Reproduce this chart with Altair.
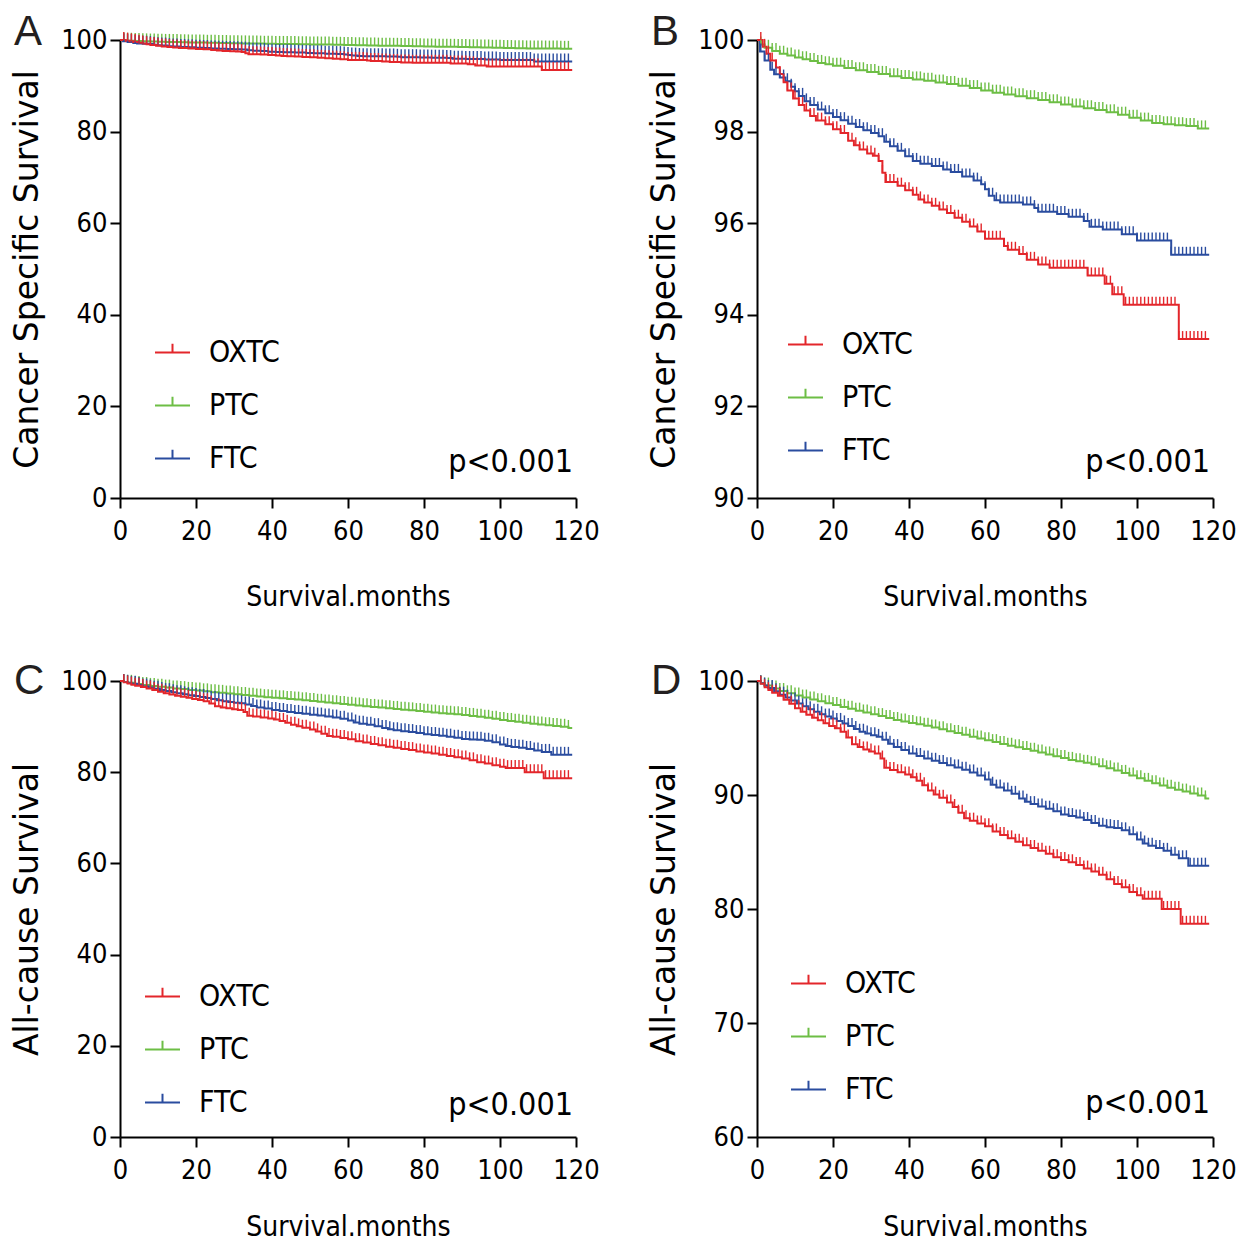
import altair as alt
import pandas as pd

NARROW = "Liberation Sans Narrow, DejaVu Sans Condensed, Liberation Sans"
WIDE = "DejaVu Sans"

groups = ["OXTC", "PTC", "FTC"]
colors = ["#E3262B", "#6DBE45", "#2A4C9F"]

# ---------------- Cancer specific survival (panels A and B) ----------------
css_ptc_t = [0, 1, 2, 4, 6, 8, 10, 12, 14, 16, 18, 20, 23, 26, 29, 32, 35, 38, 41, 44, 47, 50, 53,
             56, 59, 62, 65, 68, 71, 74, 77, 80, 83, 86, 89, 92, 95, 98, 101, 104, 107, 110, 113, 116, 119]
css_ptc_s = [100, 99.9, 99.83, 99.76, 99.70, 99.66, 99.62, 99.58, 99.54, 99.50, 99.47, 99.44, 99.39,
             99.34, 99.30, 99.26, 99.21, 99.17, 99.14, 99.11, 99.07, 99.04, 99.00, 98.95, 98.90, 98.85,
             98.81, 98.77, 98.73, 98.69, 98.64, 98.59, 98.55, 98.51, 98.47, 98.42, 98.37, 98.30, 98.24,
             98.19, 98.16, 98.14, 98.12, 98.07, 98.07]

css_ftc_t = [0, 0.8, 2, 3.5, 4.5, 6, 7.5, 9, 10, 11, 12.5, 14, 16, 18, 20, 22, 24, 26, 28, 30, 32, 33.5,
             35, 37, 39, 41, 43, 46, 49, 51, 54, 57, 59, 60, 61, 62.5, 64, 70, 73, 74, 79, 82, 86, 87.5,
             91, 96, 100, 109, 119]
css_ftc_s = [100, 99.75, 99.55, 99.35, 99.25, 99.18, 99.10, 98.98, 98.88, 98.78, 98.66, 98.58, 98.48,
             98.40, 98.32, 98.25, 98.17, 98.10, 98.03, 97.97, 97.90, 97.78, 97.68, 97.58, 97.46, 97.36,
             97.30, 97.25, 97.17, 97.12, 97.02, 96.93, 96.85, 96.74, 96.60, 96.50, 96.45, 96.41, 96.33,
             96.25, 96.20, 96.14, 96.05, 95.92, 95.86, 95.76, 95.62, 95.31, 95.31]

css_oxtc_t = [0, 1.5, 2.5, 3.5, 5, 6, 7, 8, 9.5, 11, 12.5, 14, 15.5, 18, 20, 22, 24, 25.5, 27, 29, 30.5,
              32, 33, 33.8, 37, 39, 41, 42.5, 44, 46, 48, 50, 52, 54, 56, 58, 60, 65, 66, 69, 71, 74, 77,
              87, 91.5, 93.5, 96.5, 111, 119]
css_oxtc_s = [100, 99.85, 99.7, 99.55, 99.4, 99.26, 99.08, 98.9, 98.72, 98.58, 98.46, 98.34, 98.24,
              98.16, 98.05, 97.97, 97.80, 97.70, 97.61, 97.52, 97.47, 97.36, 97.10, 96.90, 96.82, 96.72,
              96.62, 96.52, 96.45, 96.38, 96.30, 96.22, 96.12, 96.03, 95.93, 95.82, 95.66, 95.50, 95.42,
              95.33, 95.20, 95.10, 95.03, 94.86, 94.68, 94.45, 94.22, 93.47, 93.47]

# ---------------- All-cause survival (panels C and D) ----------------
acs_ptc_t = [0, 1, 2, 4, 6, 8, 10, 12, 14, 16, 18, 20, 22, 24, 26, 28, 30, 32, 34, 36, 38, 40, 42, 44,
             46, 48, 50, 52, 54, 56, 58, 60, 62, 64, 66, 68, 70, 72, 74, 76, 78, 80, 82, 84, 86, 88, 90,
             92, 94, 96, 98, 100, 102, 104, 106, 108, 110, 112, 114, 116, 118, 119]
acs_ptc_s = [100, 99.8, 99.6, 99.35, 99.12, 98.92, 98.72, 98.55, 98.38, 98.22, 98.05, 97.9, 97.73,
             97.56, 97.4, 97.24, 97.08, 96.92, 96.75, 96.58, 96.45, 96.32, 96.2, 96.08, 95.92, 95.76,
             95.6, 95.44, 95.28, 95.12, 94.96, 94.8, 94.64, 94.48, 94.32, 94.18, 94.04, 93.88, 93.72,
             93.56, 93.4, 93.24, 93.08, 92.95, 92.82, 92.7, 92.52, 92.34, 92.14, 91.94, 91.7, 91.46,
             91.24, 91.04, 90.84, 90.64, 90.46, 90.3, 90.14, 89.96, 89.7, 89.7]

acs_ftc_t = [0, 1, 2, 3, 4.5, 6, 7.5, 9, 10.5, 12, 13.5, 15, 16.5, 18, 19.5, 21, 22.5, 24, 25.5, 27,
             28.5, 30, 31.5, 33, 34.5, 36, 38, 40, 42, 44, 46, 48, 50, 52, 54, 56, 58, 60, 61.5, 63, 65,
             67, 69, 70.5, 72, 74, 76, 78, 80, 82, 84, 86, 88, 90, 92, 94, 96, 98, 100, 101.5, 103, 105,
             107, 109, 111, 113.5, 119]
acs_ftc_s = [100, 99.8, 99.6, 99.38, 99.1, 98.8, 98.55, 98.28, 98.02, 97.78, 97.52, 97.3, 97.08, 96.88,
             96.72, 96.5, 96.28, 96.05, 95.8, 95.55, 95.4, 95.25, 95.1, 94.85, 94.5, 94.2, 93.95, 93.65,
             93.42, 93.2, 93.0, 92.8, 92.62, 92.42, 92.22, 91.98, 91.7, 91.35, 90.9, 90.65, 90.4, 90.1,
             89.7, 89.4, 89.2, 89.0, 88.8, 88.58, 88.3, 88.15, 88.02, 87.8, 87.55, 87.3, 87.18, 87.1,
             86.9, 86.55, 86.1, 85.75, 85.55, 85.35, 85.1, 84.75, 84.45, 83.8, 83.8]

acs_oxtc_t = [0, 1, 2, 3, 4, 5.5, 7, 8.5, 10, 11.5, 13, 14.5, 16, 17.5, 19, 20.5, 22, 23.5, 25, 26.5,
              28, 29.5, 31, 32.5, 33.5, 35, 37, 39, 40.5, 42, 43.5, 45, 46.5, 48, 50, 51.5, 53, 54.5, 56,
              58, 60, 62, 64, 66, 68, 70, 72, 74, 76, 78, 80, 82, 84, 86, 88, 90, 92, 94, 96, 98, 100,
              101.5, 106.5, 111.5, 119]
acs_oxtc_s = [100, 99.75, 99.45, 99.2, 98.98, 98.7, 98.35, 98.0, 97.62, 97.3, 97.05, 96.78, 96.55,
              96.3, 96.05, 95.85, 95.55, 95.05, 94.45, 94.2, 94.0, 93.82, 93.65, 93.2, 92.4, 92.2, 92.0,
              91.8, 91.55, 91.25, 90.85, 90.4, 90.05, 89.75, 89.35, 88.95, 88.45, 87.95, 87.75, 87.5,
              87.25, 86.8, 86.5, 86.2, 85.9, 85.6, 85.35, 85.1, 84.85, 84.55, 84.3, 84.1, 83.85, 83.55,
              83.3, 83.0, 82.6, 82.2, 81.9, 81.5, 81.2, 80.9, 80.0, 78.7, 78.7]

# censoring marks: roughly one per month along every curve
censor_months = list(range(1, 119))

x_ticks = [0, 20, 40, 60, 80, 100, 120]


def step_value(times, vals, m):
    v = vals[0]
    for t, s in zip(times, vals):
        if t <= m:
            v = s
        else:
            break
    return v


def build(curves):
    rows, ticks = [], []
    for g, (ts, ss) in curves:
        for t, s in zip(ts, ss):
            rows.append({"group": g, "month": t, "surv": s})
        for m in censor_months:
            ticks.append({"group": g, "month": m, "surv": step_value(ts, ss, m)})
    return pd.DataFrame(rows), pd.DataFrame(ticks)


css_lines, css_ticks = build([("PTC", (css_ptc_t, css_ptc_s)), ("FTC", (css_ftc_t, css_ftc_s)),
                              ("OXTC", (css_oxtc_t, css_oxtc_s))])
acs_lines, acs_ticks = build([("PTC", (acs_ptc_t, acs_ptc_s)), ("FTC", (acs_ftc_t, acs_ftc_s)),
                              ("OXTC", (acs_oxtc_t, acs_oxtc_s))])

W = 456


def panel(lines_df, ticks_df, ydomain, yvalues, ytitle, letter, letter_y, leg_x, leg_y, p_y, xtp, H):
    xenc = alt.X("month:Q", scale=alt.Scale(domain=[0, 120], nice=False),
                 axis=alt.Axis(values=x_ticks, title="Survival.months", titlePadding=xtp))
    yenc = alt.Y("surv:Q", scale=alt.Scale(domain=ydomain, nice=False, zero=False),
                 axis=alt.Axis(values=yvalues, title=ytitle))
    cscale = alt.Scale(domain=groups, range=colors)
    lines = alt.Chart(lines_df).mark_line(interpolate="step-after", strokeWidth=2).encode(
        x=xenc, y=yenc,
        color=alt.Color("group:N", scale=cscale, sort=groups,
                        legend=alt.Legend(orient="none", legendX=leg_x, legendY=leg_y, title=None,
                                          symbolType="M-1,0H1M0,0V-0.5", symbolSize=1225,
                                          symbolStrokeWidth=2, symbolFillColor="transparent",
                                          labelFont=NARROW, labelFontSize=30, labelColor="black",
                                          labelOffset=18, rowPadding=19, padding=0)),
    )
    ticks = alt.Chart(ticks_df).mark_point(shape="M0,0V-1", size=256, filled=False, strokeWidth=1.4,
                                           opacity=1).encode(
        x="month:Q", y="surv:Q",
        color=alt.Color("group:N", scale=cscale, sort=groups),
    )
    ptxt = alt.Chart(pd.DataFrame({"t": ["p<0.001"]})).mark_text(
        align="right", baseline="alphabetic", font=NARROW, fontSize=32, color="black").encode(
        x=alt.value(W - 3), y=alt.value(p_y), text="t:N")
    ltxt = alt.Chart(pd.DataFrame({"t": [letter]})).mark_text(
        align="left", baseline="alphabetic", font="Liberation Sans", fontSize=42, color="#231F20").encode(
        x=alt.value(-106), y=alt.value(letter_y), text="t:N")
    return alt.layer(lines, ticks, ptxt, ltxt).properties(width=W, height=H)


pA = panel(css_lines, css_ticks, [0, 100], [0, 20, 40, 60, 80, 100], "Cancer Specific Survival",
           "A", 5, 34, 294, 432, 39, 458)
pB = panel(css_lines, css_ticks, [90, 100], [90, 92, 94, 96, 98, 100], "Cancer Specific Survival",
           "B", 5, 30, 286, 432, 39, 458)
pC = panel(acs_lines, acs_ticks, [0, 100], [0, 20, 40, 60, 80, 100], "All-cause Survival",
           "C", 13, 24, 297, 434, 30, 456)
pD = panel(acs_lines, acs_ticks, [60, 100], [60, 70, 80, 90, 100], "All-cause Survival",
           "D", 13, 33, 284, 432, 30, 456)

top = alt.hconcat(pA, pB, spacing=48).resolve_scale(color="independent")
bottom = alt.hconcat(pC, pD, spacing=48).resolve_scale(color="independent")
chart = alt.vconcat(top, bottom, spacing=49).resolve_scale(color="independent").properties(
    padding={"left": 3, "top": 3, "right": 0, "bottom": 0}
).configure_view(stroke=None).configure_axis(
    domainColor="black", domainWidth=2, tickColor="black", tickWidth=2, tickSize=10,
    labelColor="black", labelFont=NARROW, labelFontSize=27, labelFlush=False, labelOverlap=False,
    titleColor="black", titleFontWeight="normal", grid=False,
).configure_axisX(
    titleFont=NARROW, titleFontSize=28, labelPadding=10,
).configure_axisY(
    titleFont=WIDE, titleFontSize=33, labelPadding=3, titlePadding=16,
)

chart.save("out.html", embed_options={"renderer": "svg", "actions": False})
